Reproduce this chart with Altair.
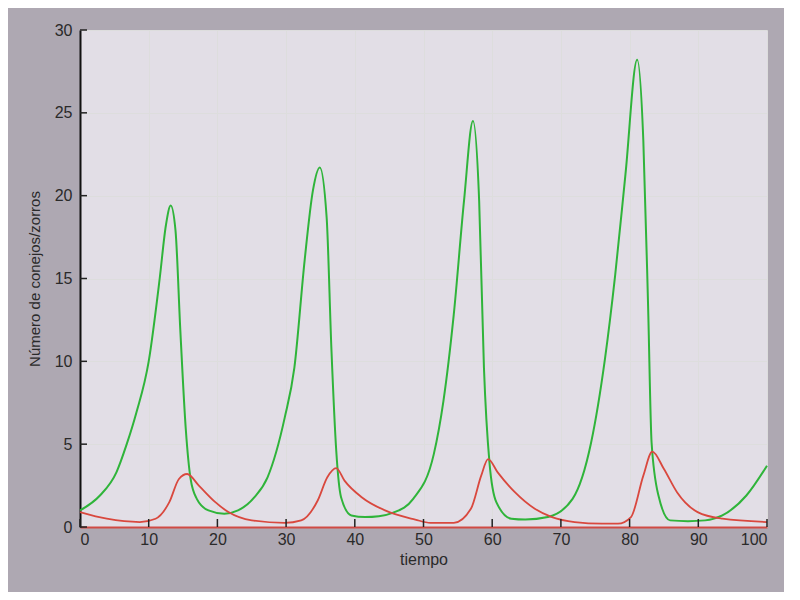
import altair as alt
import pandas as pd

# Conejos (green) readings
t_conejos = [0, 2.9, 5.3, 6.8, 8.2, 10.0, 11.6, 12.5, 13.2, 13.9, 14.6, 15.4, 16.1, 17.0, 18.7, 21.0, 23.0,
             25.4, 27.3, 29.8, 31.2, 32.7, 33.9, 34.9, 35.9, 36.6, 37.3, 38.0, 39.5, 41.5, 43.5, 45.5,
             48.5, 51.5, 52.9, 54.4, 55.9, 57.2, 58.1, 58.8, 59.6, 60.6, 62.8, 64.8, 68.1,
             71.7, 74.4, 76.4, 77.9, 79.4, 81.1, 82.0, 82.7, 83.2, 84.2, 85.9, 88.5, 91.0, 93.5, 97.0, 100]
conejos = [1.0, 1.9, 3.3, 5.0, 6.9, 10.0, 15.0, 18.2, 19.4, 17.9, 11.9, 5.9, 2.9, 1.7, 1.0, 0.8, 1.0,
           1.8, 3.0, 6.6, 9.6, 16.1, 20.3, 21.7, 18.7, 10.7, 4.6, 1.8, 0.7, 0.6, 0.65, 0.85,
           1.7, 4.4, 7.6, 12.8, 19.7, 24.5, 19.7, 9.6, 3.9, 1.5, 0.5, 0.45, 0.6,
           1.7, 5.1, 10.1, 15.2, 21.3, 28.2, 23.3, 13.2, 5.1, 1.9, 0.4, 0.35, 0.4, 0.7, 1.9, 3.7]

# Zorros (red) readings
t_zorros = [0, 3.9, 8.7, 11.0, 13.0, 14.4, 15.6, 17.3, 19.7, 21.6, 25.0, 29.8, 32.2, 34.6, 36.0, 37.3,
            38.5, 41.0, 44.4, 48.8, 51.0, 54.4, 56.9, 58.4, 59.4, 60.8, 63.3, 66.2, 68.7, 72.0,
            76.0, 78.3, 80.2, 82.0, 83.3, 85.0, 86.9, 89.9, 93.5, 100]
zorros = [0.9, 0.5, 0.3, 0.5, 1.5, 2.9, 3.2, 2.5, 1.5, 0.9, 0.4, 0.25, 0.4, 1.6, 3.0, 3.55,
          2.8, 1.8, 1.0, 0.45, 0.25, 0.25, 1.1, 3.1, 4.1, 3.3, 2.1, 1.1, 0.6, 0.3,
          0.2, 0.2, 0.6, 3.1, 4.55, 3.5, 2.1, 0.9, 0.5, 0.3]

x_ticks = [0, 10, 20, 30, 40, 50, 60, 70, 80, 90, 100]
y_ticks = [0, 5, 10, 15, 20, 25, 30]

df_c = pd.DataFrame({"t": t_conejos, "v": conejos})
df_z = pd.DataFrame({"t": t_zorros, "v": zorros})
df_xt = pd.DataFrame({"t": x_ticks})
df_yt = pd.DataFrame({"v": y_ticks})

xs = alt.Scale(domain=[0, 100], nice=False, zero=False)
ys = alt.Scale(domain=[0, 30], nice=False)

x_axis = alt.Axis(values=x_ticks, title="tiempo", labelFontSize=16, titleFontSize=16,
                  titleFontWeight="normal", labelColor="#2a2a2a", titleColor="#2a2a2a",
                  ticks=False, domainColor="#d04a44", domainWidth=2, labelPadding=4,
                  titlePadding=4, labelFont="Liberation Sans", titleFont="Liberation Sans")
y_axis = alt.Axis(values=y_ticks, title="Número de conejos/zorros", labelFontSize=16,
                  titleFontSize=15, titleFontWeight="normal", labelColor="#2a2a2a",
                  titleColor="#2a2a2a", ticks=False, domainColor="#111111", domainWidth=2,
                  labelPadding=8, titlePadding=12, labelFont="Liberation Sans",
                  titleFont="Liberation Sans")

green = alt.Chart(df_c).mark_line(color="#2fb43a", strokeWidth=2, interpolate="monotone").encode(
    x=alt.X("t:Q", scale=xs, axis=x_axis),
    y=alt.Y("v:Q", scale=ys, axis=y_axis),
)
red = alt.Chart(df_z).mark_line(color="#d9483e", strokeWidth=1.8, interpolate="monotone").encode(
    x=alt.X("t:Q", scale=xs),
    y=alt.Y("v:Q", scale=ys),
)
# inward ticks (MATLAB style)
xticks_m = alt.Chart(df_xt).mark_rule(color="#222222", strokeWidth=1.5).encode(
    x=alt.X("t:Q", scale=xs),
    y=alt.value(497),
    y2=alt.value(489),
)
yticks_m = alt.Chart(df_yt).mark_rule(color="#222222", strokeWidth=1.5).encode(
    y=alt.Y("v:Q", scale=ys),
    x=alt.value(0),
    x2=alt.value(7),
)

chart = alt.layer(green, red, xticks_m, yticks_m).properties(
    width=687, height=497,
    autosize=alt.AutoSizeParams(type="none"),
    padding={"left": 72, "top": 22, "right": 17, "bottom": 65},
    background="#aea8b2",
).configure_view(fill="#e2dee6", stroke=None)

chart.save("out.html", embed_options={"renderer": "svg", "actions": False})
